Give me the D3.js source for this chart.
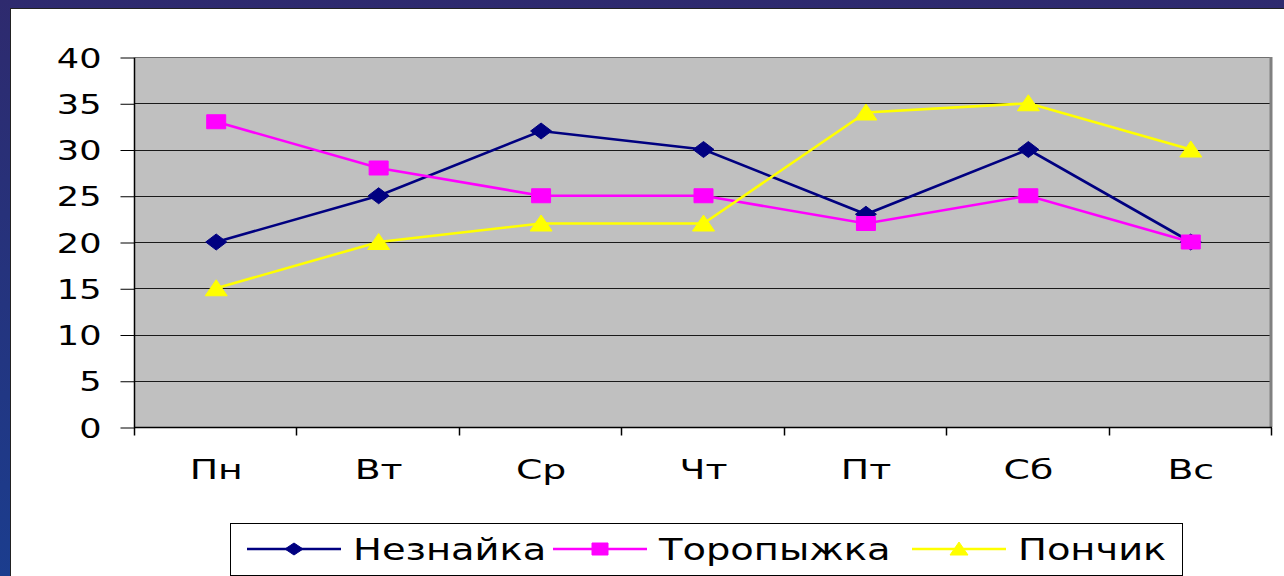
<!DOCTYPE html>
<html>
<head>
<meta charset="utf-8">
<script src="https://cdn.jsdelivr.net/npm/d3@7"></script>
<style>
  html, body { margin: 0; padding: 0; background: #fff; }
  svg text { font-family: "DejaVu Sans", sans-serif; fill: #000; }
</style>
</head>
<body>
<div id="chart"></div>
<script>
// Data
const days = ['Пн', 'Вт', 'Ср', 'Чт', 'Пт', 'Сб', 'Вс']
const yTicks = [0, 5, 10, 15, 20, 25, 30, 35, 40]
const neznaika = [20, 25, 32, 30, 23, 30, 20]
const toropyzhka = [33, 28, 25, 25, 22, 25, 20]
const ponchik = [15, 20, 22, 22, 34, 35, 30]

const series = [
  { name: 'Незнайка', values: neznaika, color: '#000080', marker: 'diamond' },
  { name: 'Торопыжка', values: toropyzhka, color: '#ff00ff', marker: 'square' },
  { name: 'Пончик', values: ponchik, color: '#ffff00', marker: 'triangle' }
]

// Dimensions
let dimensions = {
  width: 1284,
  height: 576,
  plotLeft: 135,
  plotRight: 1272,
  plotTop: 57,
  plotBottom: 427
}

// the original slide is stretched sideways, so text gets widened too
function widen(sel, k) {
  sel.each(function () {
    const len = this.getComputedTextLength()
    d3.select(this)
      .attr('textLength', len * k)
      .attr('lengthAdjust', 'spacingAndGlyphs')
  })
}

// markers are wider than tall (stretched slide)
function markerPath(type, w, h) {
  const a = w / 2, b = h / 2
  if (type === 'diamond') {
    return `M0,${-b} L${a},0 L0,${b} L${-a},0 Z`
  }
  if (type === 'square') {
    return `M${-a},${-b} L${a},${-b} L${a},${b} L${-a},${b} Z`
  }
  return `M0,${-b - 1} L${a},${b} L${-a},${b} Z`
}

const markerSize = {
  diamond: [21, 16],
  square: [19, 14],
  triangle: [22, 15]
}
const legendMarkerSize = {
  diamond: [18, 12],
  square: [16, 12],
  triangle: [18, 12]
}

const svg = d3.select('#chart')
  .append('svg')
  .attr('width', dimensions.width)
  .attr('height', dimensions.height)

// slide background frame
const defs = svg.append('defs')
const grad = defs.append('linearGradient')
  .attr('id', 'bg')
  .attr('x1', 0).attr('y1', 0).attr('x2', 0).attr('y2', 1)
grad.append('stop').attr('offset', '0%').attr('stop-color', '#2e2a6e')
grad.append('stop').attr('offset', '100%').attr('stop-color', '#1b3d8e')

svg.append('rect')
  .attr('width', dimensions.width)
  .attr('height', dimensions.height)
  .attr('fill', 'url(#bg)')
svg.append('rect')
  .attr('x', 10).attr('y', 8)
  .attr('width', dimensions.width)
  .attr('height', dimensions.height)
  .attr('fill', '#222')
svg.append('rect')
  .attr('x', 11).attr('y', 9)
  .attr('width', dimensions.width)
  .attr('height', dimensions.height)
  .attr('fill', '#fff')

// Scales
const xScale = d3.scaleBand()
  .domain(days)
  .range([dimensions.plotLeft, dimensions.plotRight])
  .padding(0)
const xCenter = d => xScale(d) + xScale.bandwidth() / 2

const yScale = d3.scaleLinear()
  .domain([0, 40])
  .range([dimensions.plotBottom, dimensions.plotTop])

// plot area
const plotW = dimensions.plotRight - dimensions.plotLeft
const plotH = dimensions.plotBottom - dimensions.plotTop
svg.append('rect')
  .attr('x', dimensions.plotLeft)
  .attr('y', dimensions.plotTop)
  .attr('width', plotW)
  .attr('height', plotH)
  .attr('fill', '#c0c0c0')

// gridlines
svg.append('g')
  .selectAll('line')
  .data(yTicks.filter(v => v > 0))
  .join('line')
  .attr('x1', dimensions.plotLeft)
  .attr('x2', dimensions.plotRight)
  .attr('y1', d => Math.round(yScale(d)) + 0.5)
  .attr('y2', d => Math.round(yScale(d)) + 0.5)
  .attr('stroke', d => d === 40 ? '#707070' : '#1a1a1a')
  .attr('stroke-width', 1)

// right border shadow
svg.append('line')
  .attr('x1', dimensions.plotRight - 1)
  .attr('x2', dimensions.plotRight - 1)
  .attr('y1', dimensions.plotTop)
  .attr('y2', dimensions.plotBottom)
  .attr('stroke', '#808080')
  .attr('stroke-width', 3)

// y axis
const yAxis = d3.axisLeft(yScale)
  .tickValues(yTicks)
  .tickSize(14)
  .tickPadding(19)
const yAxisGroup = svg.append('g')
  .attr('transform', `translate(${dimensions.plotLeft - 0.5}, 0.5)`)
  .call(yAxis)
yAxisGroup.select('.domain')
  .attr('stroke', '#000')
  .attr('stroke-width', 1.5)
  .attr('d', `M0,${dimensions.plotTop}V${dimensions.plotBottom}`)
yAxisGroup.selectAll('.tick line').attr('stroke', '#000')
yAxisGroup.selectAll('.tick text')
  .attr('font-size', 27)
  .attr('font-family', '"DejaVu Sans", sans-serif')
  .attr('dy', '0.36em')
  .call(widen, 1.3)

// x axis: labels at band centers, ticks at band edges
const xAxis = d3.axisBottom(xScale).tickSize(0).tickPadding(32)
const xAxisGroup = svg.append('g')
  .attr('transform', `translate(0, ${dimensions.plotBottom + 0.5})`)
  .call(xAxis)
xAxisGroup.select('.domain')
  .attr('stroke', '#000')
  .attr('stroke-width', 1.5)
  .attr('d', `M${dimensions.plotLeft - 1},0H${dimensions.plotRight}`)
xAxisGroup.selectAll('.tick text')
  .attr('font-size', 27)
  .attr('font-family', '"DejaVu Sans", sans-serif')
  .call(widen, 1.4)

const edges = days.map(d => xScale(d)).concat([dimensions.plotRight])
xAxisGroup.append('g')
  .selectAll('line')
  .data(edges)
  .join('line')
  .attr('x1', d => Math.round(d) - 0.5)
  .attr('x2', d => Math.round(d) - 0.5)
  .attr('y1', 0)
  .attr('y2', 8)
  .attr('stroke', '#000')
  .attr('stroke-width', 1.5)

// lines
const lineGenerator = d3.line()
  .x((d, i) => xCenter(days[i]))
  .y(d => yScale(d))

const seriesGroup = svg.append('g')
  .selectAll('g')
  .data(series)
  .join('g')

seriesGroup.append('path')
  .attr('d', d => lineGenerator(d.values))
  .attr('fill', 'none')
  .attr('stroke', d => d.color)
  .attr('stroke-width', 2.6)

seriesGroup.each(function (s) {
  const [w, h] = markerSize[s.marker]
  d3.select(this).selectAll('path.marker')
    .data(s.values)
    .join('path')
    .attr('class', 'marker')
    .attr('transform', (d, i) => `translate(${xCenter(days[i])}, ${yScale(d)})`)
    .attr('d', markerPath(s.marker, w, h))
    .attr('fill', s.color)
    .attr('stroke', s.color)
    .attr('stroke-width', 1)
    .attr('stroke-linejoin', 'round')
})

// legend
const legendBox = { x: 230, y: 523, w: 952, h: 52 }
svg.append('rect')
  .attr('x', legendBox.x + 0.5)
  .attr('y', legendBox.y + 0.5)
  .attr('width', legendBox.w)
  .attr('height', legendBox.h)
  .attr('fill', '#fff')
  .attr('stroke', '#000')
  .attr('stroke-width', 1)

const legendX = [247, 553, 912]
const legendY = legendBox.y + 26
const legendItem = svg.append('g')
  .selectAll('g')
  .data(series)
  .join('g')
  .attr('transform', (d, i) => `translate(${legendX[i]}, ${legendY})`)

legendItem.append('line')
  .attr('x1', 0)
  .attr('x2', 94)
  .attr('stroke', d => d.color)
  .attr('stroke-width', 2.4)
legendItem.append('path')
  .attr('transform', 'translate(47, 0)')
  .attr('d', d => markerPath(d.marker, ...legendMarkerSize[d.marker]))
  .attr('fill', d => d.color)
  .attr('stroke', d => d.color)
  .attr('stroke-linejoin', 'round')
legendItem.append('text')
  .attr('x', 106)
  .attr('dy', '0.36em')
  .attr('font-size', 30)
  .text(d => d.name)
  .call(widen, 1.28)
</script>
</body>
</html>
